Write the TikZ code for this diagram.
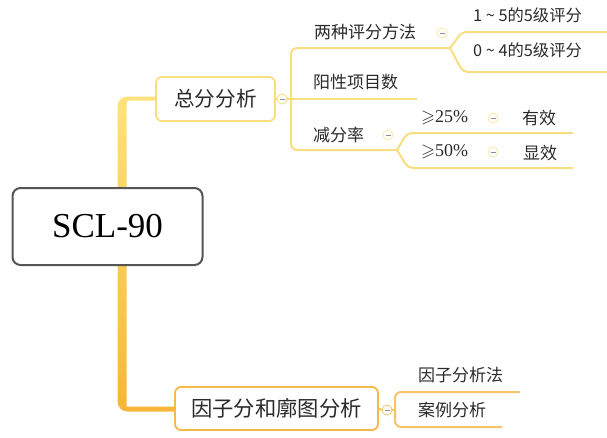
\documentclass[tikz,border=0pt]{standalone}
\usepackage{fontspec}
\usepackage{amssymb}
\setmainfont{Liberation Serif}
\newfontfamily\cjk{Noto Sans CJK SC}
\definecolor{ylw}{HTML}{F8DE7E}
\definecolor{org}{HTML}{F4C36A}
\definecolor{orgbox}{HTML}{F5B94A}
\definecolor{trunkTop}{HTML}{FFE27C}
\definecolor{trunkBot}{HTML}{F7B637}
\definecolor{rootBorder}{HTML}{555555}
\definecolor{minusC}{HTML}{8C8CA0}
\definecolor{txtC}{HTML}{2A2A2A}
\tikzset{
  rootbox/.style={draw=rootBorder, line width=2pt, fill=white, rounded corners=8pt,
    minimum width=190pt, minimum height=77pt, inner sep=0pt, text=black,
    font=\fontsize{35}{35}\selectfont},
  mainbox/.style={draw=#1, line width=1.8pt, fill=white, rounded corners=6pt,
    inner sep=0pt, text=txtC},
  lbl/.style={inner sep=0pt, anchor=west, text=txtC, font=\cjk\fontsize{17}{17}\selectfont},
  sm/.style={lbl, font=\cjk\fontsize{16.3}{16.3}\selectfont},
  collapse/.style={circle, draw=#1, fill=white, minimum size=10pt, inner sep=0pt, line width=0.8pt,
    path picture={\draw[minusC, line width=0.9pt]
      ([xshift=-2.5pt]path picture bounding box.center) -- ([xshift=2.5pt]path picture bounding box.center);}},
  yline/.style={draw=ylw, line width=2pt},
  oline/.style={draw=org, line width=2pt},
}
\begin{document}
\begin{tikzpicture}[x=1pt,y=-1pt]
\useasboundingbox (0,0) rectangle (607,437);
% trunk
\shade[top color=trunkTop, bottom color=trunkBot]
  (170,96.5) [rounded corners=10pt] -- (117.5,96.5) -- (117.5,411.5) -- (185,411.5)
  [sharp corners] -- (185,406.5) -- (126.5,406.5) [rounded corners=3pt] -- (126.5,100.5) -- (170,100.5)
  [sharp corners] -- cycle;
% root
\node[rootbox] (root) at (107.5,226.5) {SCL-90};
% main boxes
\node[mainbox=ylw, minimum width=119pt, minimum height=44pt, font=\cjk\fontsize{20.6}{20.6}\selectfont] (zf) at (215.5,99) {总分分析};
\node[mainbox=orgbox, minimum width=203pt, minimum height=43pt, font=\cjk\fontsize{21.3}{21.3}\selectfont] (yz) at (276.5,408.5) {因子分和廓图分析};
% collapse circles
\node[collapse=ylw] (c1) at (282,99) {};
\node[collapse=ylw!70] (cpf) at (442,33) {};
\node[collapse=ylw!70] (cjf) at (388,135) {};
\node[collapse=ylw!70] (c25) at (493,118) {};
\node[collapse=ylw!70] (c50) at (493,152) {};
\node[collapse=org] (c2) at (387,410) {};
% coordinates
\coordinate (v1) at (291,99);
\coordinate (pfL) at (291,48);
\coordinate (pfF) at (450,48);
\coordinate (jfL) at (291,150);
\coordinate (jfF) at (397,150);
\coordinate (yxE) at (417,99);
\coordinate (b1) at (462,32);
\coordinate (b1E) at (610,32);
\coordinate (b2) at (463,72);
\coordinate (b2E) at (610,72);
\coordinate (g1) at (407,133);
\coordinate (g1E) at (573,133);
\coordinate (g2) at (408,168);
\coordinate (g2E) at (573,168);
\coordinate (bv) at (395,410);
\coordinate (bt) at (395,392);
\coordinate (btE) at (520,392);
\coordinate (bb) at (395,427);
\coordinate (bbE) at (502,427);
% upper branch lines
\draw[yline] (zf.east) -- (c1.west);
\draw[yline] (c1.east) -- (v1) -- (yxE);
\draw[yline, rounded corners=6pt] (pfF) -- (pfL) -- (jfL) -- (jfF);
\draw[yline, rounded corners=5pt] (pfF) -- (b1) -- (b1E);
\draw[yline, rounded corners=5pt] (pfF) -- (b2) -- (b2E);
\draw[yline, rounded corners=5pt] (jfF) -- (g1) -- (g1E);
\draw[yline, rounded corners=5pt] (jfF) -- (g2) -- (g2E);
% lower branch lines
\draw[oline] (yz.east) -- (c2.west);
\draw[oline] (c2.east) -- (bv);
\draw[oline, rounded corners=6pt] (btE) -- (bt) -- (bb) -- (bbE);
% labels
\node[lbl] (pf) at (314,32) {两种评分方法};
\node[sm] (s1) at (473,15) {1 \textasciitilde{} 5的5级评分};
\node[sm] (s2) at (473,50) {0 \textasciitilde{} 4的5级评分};
\node[lbl] (yx) at (313,82) {阳性项目数};
\node[lbl] (jf) at (313,135) {减分率};
\node[lbl, font=\fontsize{18}{18}\selectfont] (p25) at (421,118) {$\geqslant$25\%};
\node[lbl, font=\fontsize{18}{18}\selectfont] (p50) at (421,152) {$\geqslant$50\%};
\node[lbl] (yx1) at (522,118) {有效};
\node[lbl] (xx1) at (523,153) {显效};
\node[lbl] (yzf) at (418,375) {因子分析法};
\node[lbl] (alf) at (418,410) {案例分析};
\end{tikzpicture}
\end{document}
